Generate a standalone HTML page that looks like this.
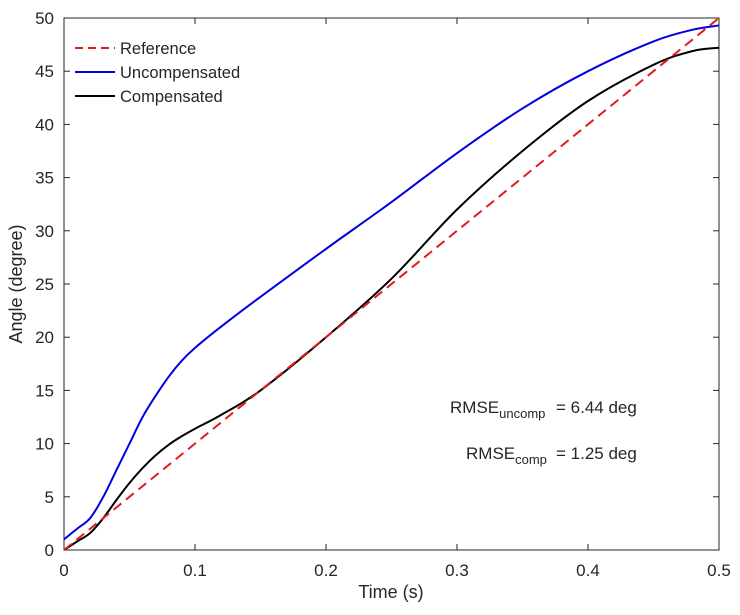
<!DOCTYPE html>
<html><head><meta charset="utf-8"><style>
body{margin:0;background:#fff}
svg text{font-family:"Liberation Sans",sans-serif;fill:#262626}
</style></head><body>
<svg width="740" height="610" xmlns="http://www.w3.org/2000/svg">
<rect x="64" y="18" width="655" height="532" fill="#fff" stroke="#262626" stroke-width="1"/>
<g id="ticks"></g>
<g id="series"></g>
<text x="391" y="598" font-size="18" text-anchor="middle">Time (s)</text>
<text transform="translate(22,284) rotate(-90)" font-size="18" text-anchor="middle">Angle (degree)</text>
<g>
<line x1="75" y1="48" x2="115" y2="48" stroke="#e31a1c" stroke-width="2" stroke-dasharray="8,5"/>
<text x="120" y="54" font-size="16.5">Reference</text>
<line x1="75" y1="72" x2="115" y2="72" stroke="#0000e0" stroke-width="2"/>
<text x="120" y="78" font-size="16.5">Uncompensated</text>
<line x1="75" y1="96" x2="115" y2="96" stroke="#000" stroke-width="2"/>
<text x="120" y="102" font-size="16.5">Compensated</text>
</g>
<text x="450" y="413" font-size="17">RMSE<tspan font-size="13" dy="5">uncomp</tspan><tspan dy="-5" x="556">= 6.44 deg</tspan></text>
<text x="466" y="459" font-size="17">RMSE<tspan font-size="13" dy="5">comp</tspan><tspan dy="-5" x="556">= 1.25 deg</tspan></text>
</svg>
<script>
const xTicks=[0,0.1,0.2,0.3,0.4,0.5];
const yTicks=[0,5,10,15,20,25,30,35,40,45,50];
const refT=[0,0.5];
const refV=[0,50];
const uncT=[0,0.01,0.02,0.03,0.04,0.05,0.06,0.07,0.08,0.09,0.1,0.12,0.15,0.2,0.25,0.3,0.35,0.4,0.45,0.48,0.5];
const uncV=[1,2,3,5,7.5,10,12.5,14.5,16.3,17.8,19,21,23.8,28.3,32.7,37.3,41.5,45,47.8,48.9,49.3];
const compT=[0,0.01,0.02,0.03,0.04,0.05,0.06,0.07,0.08,0.09,0.1,0.12,0.15,0.2,0.25,0.3,0.35,0.4,0.45,0.48,0.5];
const compV=[0,0.8,1.6,3,4.7,6.3,7.7,8.9,9.9,10.7,11.4,12.7,15,20,25.5,32,37.5,42.2,45.6,46.9,47.2];
const NS="http://www.w3.org/2000/svg";
const X=t=>64+t/0.5*655, Y=v=>550-v/50*532;
const tg=document.getElementById('ticks');
function mk(tag,attrs,parent){const e=document.createElementNS(NS,tag);for(const k in attrs)e.setAttribute(k,attrs[k]);parent.appendChild(e);return e;}
xTicks.forEach(t=>{
 const l=mk('line',{x1:X(t),x2:X(t),y1:550,y2:544,stroke:'#262626'},tg);
 
 
 const l2=mk('line',{x1:X(t),x2:X(t),y1:18,y2:24,stroke:'#262626'},tg);
 
 
 const tx=mk('text',{x:X(t),y:576,'font-size':17,'text-anchor':'middle'},tg);tx.textContent=String(t);
 
 
});
yTicks.forEach(v=>{
 const l=mk('line',{x1:64,x2:70,y1:Y(v),y2:Y(v),stroke:'#262626'},tg);
 
 
 const l2=mk('line',{x1:713,x2:719,y1:Y(v),y2:Y(v),stroke:'#262626'},tg);
 
 
 const tx=mk('text',{x:54,y:Y(v)+6,'font-size':17,'text-anchor':'end'},tg);tx.textContent=String(v);
 
 
});
const sg=document.getElementById('series');
function smoothPath(P){
 let d='M'+P[0][0]+','+P[0][1];
 for(let i=0;i<P.length-1;i++){
  const p0=P[Math.max(0,i-1)],p1=P[i],p2=P[i+1],p3=P[Math.min(P.length-1,i+2)];
  const c1x=p1[0]+(p2[0]-p0[0])/6,c1y=p1[1]+(p2[1]-p0[1])/6;
  const c2x=p2[0]-(p3[0]-p1[0])/6,c2y=p2[1]-(p3[1]-p1[1])/6;
  d+=' C'+c1x+','+c1y+' '+c2x+','+c2y+' '+p2[0]+','+p2[1];
 }
 return d;
}
function line(T,V,color,dash,name){
 const P=T.map((t,i)=>[X(t),Y(V[i])]);
 const p=mk('path',{d:smoothPath(P),fill:'none',stroke:color,'stroke-width':2,'stroke-linejoin':'round'},sg);
 if(dash)p.setAttribute('stroke-dasharray',dash);
 
 
}
line(uncT,uncV,'#0000e0',null,'uncompensated-line');
line(compT,compV,'#000',null,'compensated-line');
line(refT,refV,'#e31a1c','10,6','reference-line');
</script>
</body></html>
